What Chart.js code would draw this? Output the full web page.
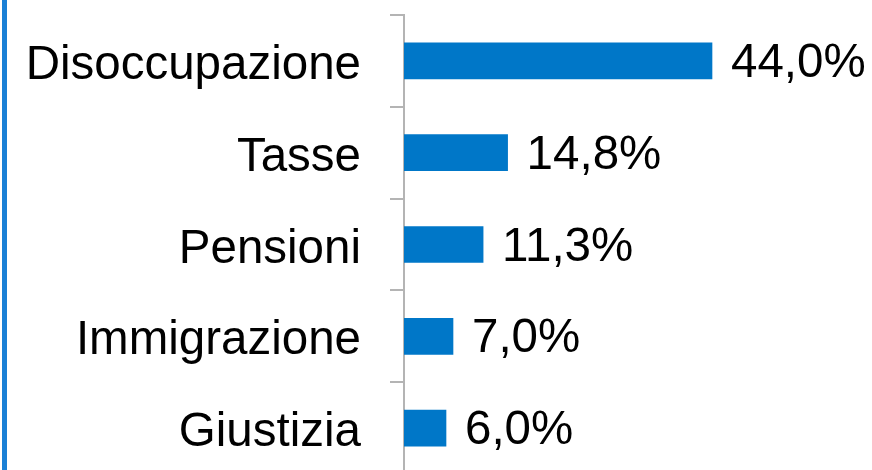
<!DOCTYPE html>
<html>
<head>
<meta charset="utf-8">
<script src="https://cdn.jsdelivr.net/npm/chart.js@4.4.1/dist/chart.umd.min.js"></script>
<style>
  html, body { margin: 0; padding: 0; background: #fff; overflow: hidden; }
  #wrap { position: relative; width: 872px; height: 470px; overflow: hidden; }
  #edge { position: absolute; left: 2px; top: 0; width: 5px; height: 470px; background: #1a80d6; }
  canvas { position: absolute; left: 0; top: 0; }
</style>
</head>
<body>
<div id="wrap">
  <canvas id="chart" width="872" height="480"></canvas>
  <div id="edge"></div>
</div>
<script>
// Data
const categories = ["Disoccupazione", "Tasse", "Pensioni", "Immigrazione", "Giustizia"];
const shares = [44.0, 14.8, 11.3, 7.0, 6.0];

const barColor = "#0077c8";
const axisColor = "#b4b4b4";
const fontFamily = "'Liberation Sans', Arial, sans-serif";
const fontSize = 47.5;

// Write the value next to each bar, Italian decimal comma
const valueLabels = {
    id: "valueLabels",
    afterDatasetsDraw(chart) {
        const ctx = chart.ctx;
        const meta = chart.getDatasetMeta(0);
        ctx.save();
        ctx.font = fontSize + "px " + fontFamily;
        ctx.fillStyle = "#000";
        ctx.textAlign = "left";
        ctx.textBaseline = "middle";
        meta.data.forEach((bar, i) => {
            const text = shares[i].toFixed(1).replace(".", ",") + "%";
            ctx.fillText(text, bar.x + 19, bar.y + 3);
        });
        ctx.restore();
    }
};

new Chart(document.getElementById("chart"), {
    type: "bar",
    data: {
        labels: categories,
        datasets: [{
            data: shares,
            backgroundColor: barColor,
            borderWidth: 0,
            barThickness: 36
        }]
    },
    options: {
        indexAxis: "y",
        responsive: false,
        animation: false,
        devicePixelRatio: 1,
        layout: { padding: { top: 15, bottom: 6, left: 0, right: 6 } },
        plugins: {
            legend: { display: false },
            tooltip: { enabled: false }
        },
        scales: {
            x: {
                display: false,
                min: 0,
                max: 66
            },
            y: {
                afterFit(scale) {
                    // fixed gutter for the labels, no extra room above/below
                    scale.width = 404;
                    scale.paddingTop = 0;
                    scale.paddingBottom = 0;
                },
                border: { display: true, color: axisColor, width: 2 },
                grid: {
                    drawOnChartArea: false,
                    drawTicks: true,
                    tickLength: 14,
                    color: axisColor,
                    lineWidth: 2
                },
                ticks: {
                    padding: 29,
                    labelOffset: 5,
                    color: "#000",
                    font: { family: fontFamily, size: fontSize }
                }
            }
        }
    },
    plugins: [valueLabels]
});
</script>
</body>
</html>
